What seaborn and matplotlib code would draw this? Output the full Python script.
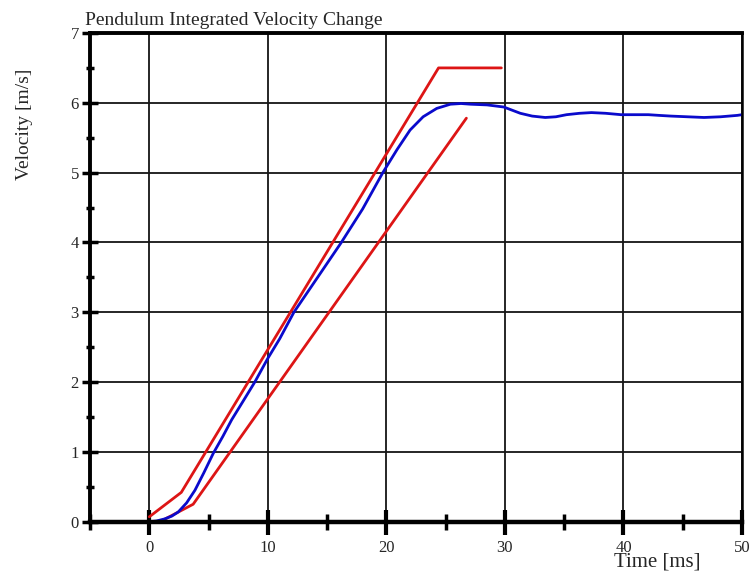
import matplotlib
matplotlib.use("Agg")
import matplotlib.pyplot as plt
import seaborn as sns
from matplotlib.ticker import MultipleLocator

# measured pendulum velocity (blue)
time_ms = [0, 0.6, 1.3, 1.9, 2.45, 3.15, 3.85, 4.6, 5.4, 6.2, 6.95, 8.0, 8.9, 10.0,
           11.0, 12.2, 14.2, 16.2, 18.0, 19.7, 20.9, 22.0, 23.1, 24.25, 25.4,
           26.3, 27.1, 28.5, 29.9, 31.3, 32.3, 33.4, 34.3, 35.2, 36.3, 37.3,
           38.5, 39.8, 41.0, 42.1, 43.0, 44.0, 45.4, 46.8, 48.2, 49.6, 50.0]
velocity = [0, 0.01, 0.04, 0.08, 0.14, 0.27, 0.45, 0.70, 0.98, 1.22, 1.46, 1.75,
            2.0, 2.34, 2.62, 3.0, 3.5, 4.0, 4.48, 5.0, 5.33, 5.61, 5.80, 5.92, 5.98,
            5.99, 5.98, 5.97, 5.94, 5.85, 5.81, 5.79, 5.80, 5.83, 5.85, 5.86,
            5.85, 5.83, 5.83, 5.83, 5.82, 5.81, 5.80, 5.79, 5.80, 5.82, 5.83]

# corridor limits (red)
upper_t = [0, 2.7, 24.4, 29.7]
upper_v = [0.07, 0.42, 6.5, 6.5]
lower_t = [0.9, 3.7, 26.75]
lower_v = [0.0, 0.25, 5.78]

sns.set_theme(style="white")
plt.rcParams["font.family"] = ["Liberation Serif", "DejaVu Serif"]

fig = plt.figure(figsize=(7.52, 5.75), dpi=100)
ax = fig.add_axes([0.1197, 0.0927, 0.8670, 0.8499])

red = "#dd1515"
blue = "#0a0acc"
sns.lineplot(x=upper_t, y=upper_v, ax=ax, color=red, lw=2.0, sort=False, estimator=None)
sns.lineplot(x=lower_t, y=lower_v, ax=ax, color=red, lw=2.0, sort=False, estimator=None)
sns.lineplot(x=time_ms, y=velocity, ax=ax, color=blue, lw=2.0, sort=False, estimator=None)

ax.set_xlim(-5, 50)
ax.set_ylim(0, 7)
ax.xaxis.set_major_locator(MultipleLocator(10))
ax.yaxis.set_major_locator(MultipleLocator(1))
ax.yaxis.set_minor_locator(MultipleLocator(0.5))
ax.set_xticks([0, 10, 20, 30, 40, 50])
ax.set_xticks([-5, 5, 15, 25, 35, 45], minor=True)

ax.grid(True, which="major", color="#151515", lw=1.3)
ax.set_axisbelow(True)

ax.tick_params(axis="x", which="major", direction="inout", length=18, width=3,
               color="black", labelsize=12, pad=4, bottom=True)
ax.tick_params(axis="x", which="minor", direction="inout", length=11, width=2.5,
               color="black", bottom=True)
ax.tick_params(axis="y", which="major", direction="inout", length=12, width=2.5,
               color="black", labelsize=12, pad=2, left=True)
ax.tick_params(axis="y", which="minor", direction="inout", length=6, width=2.5,
               color="black", left=True)

for side, w in [("left", 2.8), ("bottom", 3.2), ("top", 2.8), ("right", 1.8)]:
    ax.spines[side].set_visible(True)
    ax.spines[side].set_color("black")
    ax.spines[side].set_linewidth(w)

ax.set_xlabel("Time [ms]", fontsize=15)
ax.xaxis.set_label_coords(0.87, -0.064)
ax.set_ylabel("Velocity [m/s]", fontsize=14)
ax.yaxis.set_label_coords(-0.087, 0.814)

fig.text(0.113, 0.957, "Pendulum Integrated Velocity Change", fontsize=14,
         ha="left", va="baseline")

fig.savefig("out.png", dpi=100)
